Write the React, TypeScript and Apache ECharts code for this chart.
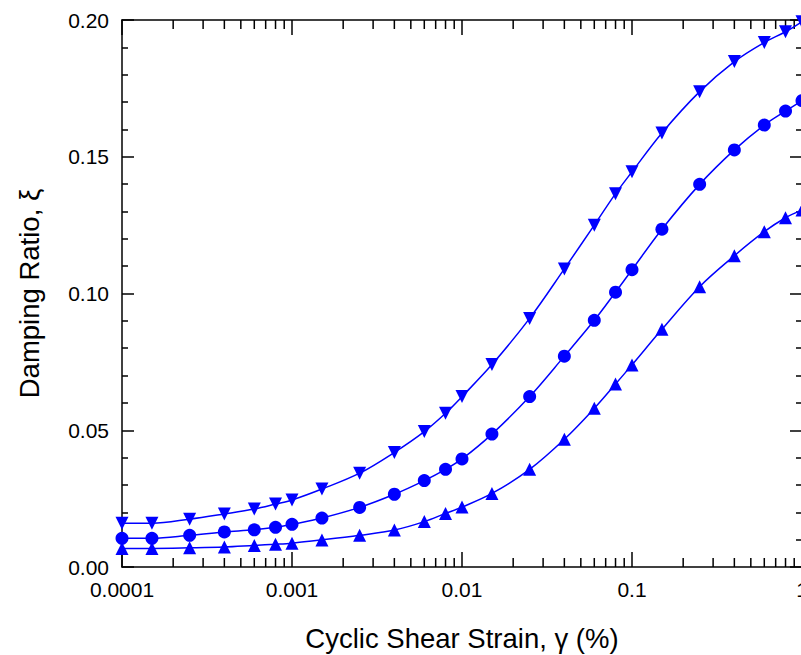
import React, { useEffect, useRef } from "react";
import * as echarts from "echarts";

const strain = [0.0001, 0.00015, 0.00025, 0.0004, 0.0006, 0.0008, 0.001, 0.0015, 0.0025, 0.004, 0.006, 0.008, 0.01, 0.015, 0.025, 0.04, 0.06, 0.08, 0.1, 0.15, 0.25, 0.4, 0.6, 0.8, 1.0];

const upperDamping = [0.0160, 0.0160, 0.0175, 0.0194, 0.0212, 0.0230, 0.0245, 0.0285, 0.0343, 0.0419, 0.0495, 0.0562, 0.0623, 0.0740, 0.0909, 0.1090, 0.1250, 0.1365, 0.1445, 0.1587, 0.1738, 0.1848, 0.1918, 0.1957, 0.1994];
const middleDamping = [0.0105, 0.0105, 0.0116, 0.0128, 0.0136, 0.0145, 0.0156, 0.0179, 0.0218, 0.0266, 0.0316, 0.0357, 0.0395, 0.0486, 0.0623, 0.0771, 0.0902, 0.1005, 0.1087, 0.1235, 0.1399, 0.1525, 0.1616, 0.1667, 0.1705];
const lowerDamping = [0.0068, 0.0068, 0.0070, 0.0073, 0.0079, 0.0083, 0.0087, 0.0099, 0.0116, 0.0135, 0.0166, 0.0196, 0.0219, 0.0269, 0.0357, 0.0467, 0.0580, 0.0669, 0.0739, 0.0869, 0.1025, 0.1138, 0.1226, 0.1277, 0.1305];

const xTickLabels = ["0.0001", "0.001", "0.01", "0.1", "1"];
const xMinorTicks = [
  0.0002, 0.0003, 0.0004, 0.0005, 0.0006, 0.0007, 0.0008, 0.0009,
  0.002, 0.003, 0.004, 0.005, 0.006, 0.007, 0.008, 0.009,
  0.02, 0.03, 0.04, 0.05, 0.06, 0.07, 0.08, 0.09,
  0.2, 0.3, 0.4, 0.5, 0.6, 0.7, 0.8, 0.9,
];

const BLUE = "#0000ff";
const FONT = "'Liberation Sans', Arial, sans-serif";

export default function App() {
  const ref = useRef<HTMLDivElement>(null);
  useEffect(() => {
    if (!ref.current) return;
    const chart = echarts.init(ref.current, null, { renderer: "svg" });
    const zip = (ys: number[]) => strain.map((x, i) => [x, ys[i]]);
    const lineSeries = (name: string, ys: number[], symbol: string, rotate: number) => ({
      name,
      type: "line",
      data: zip(ys),
      smooth: 0.35,
      symbol,
      symbolRotate: rotate,
      symbolSize: 13,
      showSymbol: true,
      lineStyle: { color: BLUE, width: 1.5 },
      itemStyle: { color: BLUE },
      xAxisIndex: 0,
      yAxisIndex: 0,
    });
    const xCommon = {
      type: "log",
      logBase: 10,
      min: 0.0001,
      max: 1,
      axisLine: { show: true, onZero: false, lineStyle: { color: "#000", width: 1.5 } },
      axisTick: { show: true, inside: true, length: 15, lineStyle: { color: "#000", width: 1.5 } },
      splitLine: { show: false },
      minorTick: { show: false },
    };
    const yCommon = {
      type: "value",
      min: 0,
      max: 0.2,
      interval: 0.05,
      axisLine: { show: true, onZero: false, lineStyle: { color: "#000", width: 1.5 } },
      axisTick: { show: true, inside: true, length: 12, lineStyle: { color: "#000", width: 1.5 } },
      minorTick: { show: true, splitNumber: 5, length: 6, lineStyle: { color: "#000", width: 1.5 } },
      splitLine: { show: false },
    };
    chart.setOption({
      animation: false,
      grid: { left: 122, top: 20, width: 680, height: 547, outerBoundsMode: "none", containLabel: false },
      xAxis: [
        {
          ...xCommon,
          position: "bottom",
          axisLabel: {
            color: "#000",
            fontSize: 21,
            fontFamily: FONT,
            margin: 12,
            formatter: (v: number) => xTickLabels[Math.round(Math.log10(v)) + 4] ?? "",
          },
          name: "Cyclic Shear Strain, γ (%)",
          nameLocation: "middle",
          nameGap: 57,
          nameTextStyle: { color: "#000", fontSize: 27.5, fontFamily: FONT },
        },
        { ...xCommon, position: "top", axisLabel: { show: false } },
      ],
      yAxis: [
        {
          ...yCommon,
          position: "left",
          axisLabel: {
            color: "#000",
            fontSize: 21,
            fontFamily: FONT,
            margin: 13,
            formatter: (v: number) => v.toFixed(2),
          },
          name: "Damping Ratio, ξ",
          nameLocation: "middle",
          nameGap: 79,
          nameRotate: 90,
          nameTextStyle: { color: "#000", fontSize: 27.5, fontFamily: FONT },
        },
        { ...yCommon, position: "right", axisLabel: { show: false } },
      ],
      series: [
        {
          type: "custom",
          xAxisIndex: 0,
          yAxisIndex: 0,
          silent: true,
          data: xMinorTicks.map((v) => [v, 0]),
          renderItem: (params: any, api: any) => {
            const v = api.value(0);
            const pb = api.coord([v, 0]);
            const pt = api.coord([v, 0.2]);
            const st = { stroke: "#000", lineWidth: 1.5 };
            return {
              type: "group",
              children: [
                { type: "line", shape: { x1: pb[0], y1: pb[1], x2: pb[0], y2: pb[1] - 9 }, style: st },
                { type: "line", shape: { x1: pt[0], y1: pt[1], x2: pt[0], y2: pt[1] + 9 }, style: st },
              ],
            };
          },
        },
        lineSeries("upper", upperDamping, "triangle", 180),
        lineSeries("middle", middleDamping, "circle", 0),
        lineSeries("lower", lowerDamping, "triangle", 0),
      ],
    });
    return () => chart.dispose();
  }, []);
  return (
    <div
      ref={ref}
      style={{ position: "fixed", left: 0, top: 0, width: 801, height: 655, background: "#fff" }}
    />
  );
}
